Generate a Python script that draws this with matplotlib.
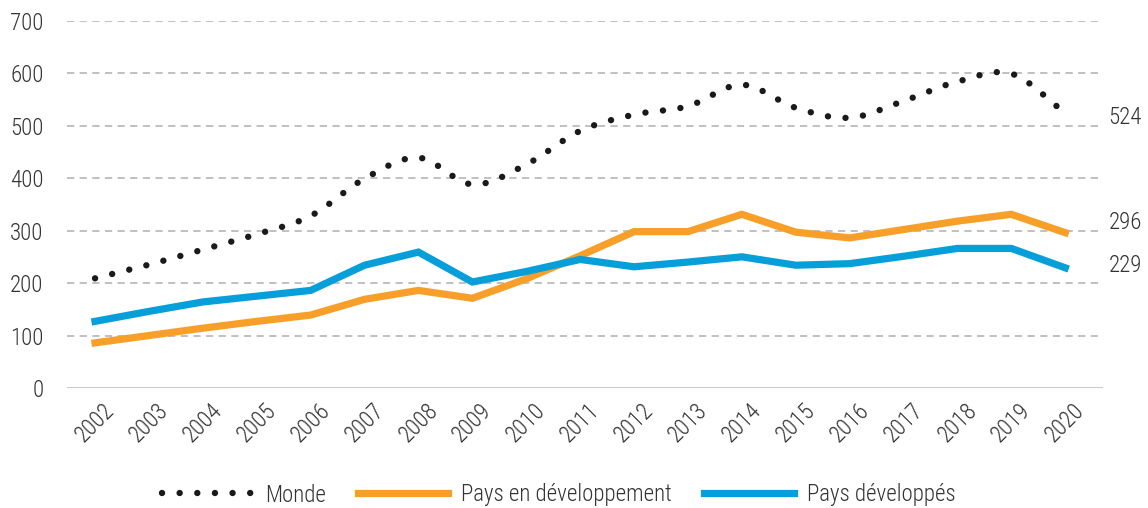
import numpy as np
import matplotlib
matplotlib.use("Agg")
import matplotlib.pyplot as plt
from matplotlib.lines import Line2D
from matplotlib import font_manager as fm

names = sorted({f.name for f in fm.fontManager.ttflist})
cands = ['Roboto Condensed', 'Liberation Sans Narrow', 'DejaVu Sans']
fam = [c for c in cands if c in names]
plt.rcParams['font.family'] = fam
plt.rcParams['font.stretch'] = 'condensed'
plt.rcParams['font.weight'] = 'light'

years = list(range(2002, 2021))
monde = [209, 235, 264, 293, 328, 399, 439, 388, 426, 490, 521, 537, 578, 534, 515, 547, 584, 599, 524]
pays_dev = [86, 100, 114, 127, 139, 169, 186, 171, 208, 252, 298, 298, 331, 297, 286, 302, 318, 331, 296]
pays_devd = [127, 146, 164, 175, 186, 234, 259, 202, 222, 245, 231, 240, 250, 234, 237, 251, 266, 266, 229]
series_names = ["Monde", "Pays en développement", "Pays développés"]
end_labels = ["524", "296", "229"]
y_ticks = [0, 100, 200, 300, 400, 500, 600, 700]

ORANGE = "#F89F2A"
BLUE = "#069FDA"
TEXT = "#333333"
GRID = "#BBBBBB"
DARK = "#1a1a1a"


def smooth(x, y, n=20):
    x = np.asarray(x, float)
    y = np.asarray(y, float)
    xs, ys = [], []
    m = np.zeros_like(y)
    m[1:-1] = (y[2:] - y[:-2]) / 2.0
    m[0] = y[1] - y[0]
    m[-1] = y[-1] - y[-2]
    for i in range(len(x) - 1):
        t = np.linspace(0, 1, n, endpoint=False)
        h00 = 2 * t**3 - 3 * t**2 + 1
        h10 = t**3 - 2 * t**2 + t
        h01 = -2 * t**3 + 3 * t**2
        h11 = t**3 - t**2
        xs.append(x[i] + t * (x[i + 1] - x[i]))
        ys.append(h00 * y[i] + h10 * m[i] + h01 * y[i + 1] + h11 * m[i + 1])
    xs.append([x[-1]])
    ys.append([y[-1]])
    return np.concatenate(xs), np.concatenate(ys)


fig = plt.figure(figsize=(11.48, 5.08), dpi=100)
ax = fig.add_axes([67 / 1148, 1 - 388 / 508, (1103 - 67) / 1148, (388 - 20.7) / 508])

ax.set_xlim(2001.48, 2020.7)
ax.set_ylim(0, 700)

for v in y_ticks[1:]:
    ax.axhline(v, color=GRID, lw=1.3, ls=(0, (4, 3)), zorder=1)
ax.axhline(0, color="#C4C4C4", lw=2, zorder=1)

for s in ax.spines.values():
    s.set_visible(False)

DOT_LW = 4.6
DOT = (0, (0.01, 2.75))
ax.plot(years, pays_dev, color=ORANGE, lw=5.2, solid_joinstyle='miter', zorder=3)
ax.plot(years, pays_devd, color=BLUE, lw=5.2, solid_joinstyle='miter', zorder=3)
sx, sy = smooth(years, monde)
ax.plot(sx, sy, color=DARK, lw=DOT_LW, ls=DOT, dash_capstyle='round', zorder=4)

ax.set_yticks(y_ticks)
ax.set_yticklabels([str(v) for v in y_ticks])
ax.set_xticks(years)
ax.set_xticklabels([str(y) for y in years], rotation=45, ha='center')
ax.tick_params(axis='both', length=0, labelsize=16.5, colors=TEXT)
ax.tick_params(axis='y', pad=17)
ax.tick_params(axis='x', pad=8)

offsets = [-3, 7, 2]
for val, lab, off in zip([monde[-1], pays_dev[-1], pays_devd[-1]], end_labels, offsets):
    ax.annotate(lab, xy=(1.0, val), xycoords=('axes fraction', 'data'),
                xytext=(4, off), textcoords='offset points',
                ha='left', va='center', fontsize=16.5, color=TEXT, annotation_clip=False)

handles = [
    Line2D([0], [0], color=DARK, lw=DOT_LW, ls=DOT, dash_capstyle='round'),
    Line2D([0], [0], color=ORANGE, lw=5.2),
    Line2D([0], [0], color=BLUE, lw=5.2),
]
leg = fig.legend(handles, series_names, loc='center', bbox_to_anchor=(559 / 1148, 1 - 495 / 508),
                 ncol=3, frameon=False, fontsize=16.5, handlelength=3.9, handletextpad=0.6,
                 columnspacing=1.4, borderaxespad=0, borderpad=0)
for t in leg.get_texts():
    t.set_color(TEXT)

fig.savefig("out.png", dpi=100)
